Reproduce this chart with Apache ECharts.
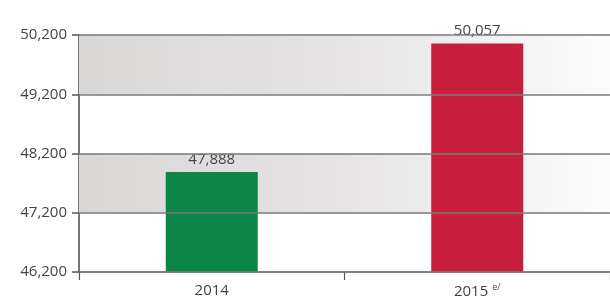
<!DOCTYPE html>
<html>
<head>
<meta charset="utf-8">
<script src="https://cdn.jsdelivr.net/npm/echarts@6/dist/echarts.min.js"></script>
<style>html,body{margin:0;padding:0;background:#fff}#c{width:610px;height:300px}</style>
</head>
<body>
<div id="c"></div>
<script>
const categories = ['2014', '2015'];
const categoryNotes = ['', 'e/'];
const values = [47888, 50057];
const barColors = ['#0b8647', '#c71f3b'];
const yTicks = [46200, 47200, 48200, 49200, 50200];
const shadedBands = [[47200, 48200], [49200, 50200]];

const fontFamily = '"Open Sans", sans-serif';
const fmt = v => v.toLocaleString('en-US');

const chart = echarts.init(document.getElementById('c'), null, {renderer: 'canvas'});
const bandGradient = new echarts.graphic.LinearGradient(0, 0, 1, 0, [
  {offset: 0, color: '#d9d7d6'},
  {offset: 0.5, color: '#e6e4e4'},
  {offset: 1, color: '#fbfbfb'}
]);

chart.setOption({
  animation: false,
  grid: {left: 79, right: 0, top: 35, bottom: 28},
  xAxis: {
    type: 'category',
    data: categories,
    axisLine: {lineStyle: {color: '#777', width: 1.5}},
    axisTick: {show: true, length: 8, lineStyle: {color: '#555', width: 1.2}},
    axisLabel: {
      color: '#444', fontSize: 15, fontFamily, margin: 11,
      formatter: (v, i) => categoryNotes[i] ? v + ' {sup|' + categoryNotes[i] + '}' : v,
      rich: {sup: {fontSize: 9, color: '#444', fontFamily, verticalAlign: 'top', padding: [0, 0, 9, 0]}}
    }
  },
  yAxis: {
    type: 'value',
    min: yTicks[0],
    max: yTicks[yTicks.length - 1],
    axisLine: {show: true, lineStyle: {color: '#777', width: 2}},
    axisTick: {show: true, length: 7, customValues: yTicks, lineStyle: {color: '#555', width: 1.5}},
    axisLabel: {color: '#444', fontSize: 15, fontFamily, margin: 12, customValues: yTicks, formatter: v => fmt(v)},
    splitLine: {show: false}
  },
  series: [
    {
      type: 'line',
      data: [],
      z: 1,
      silent: true,
      markArea: {
        silent: true,
        itemStyle: {color: bandGradient},
        data: shadedBands.map(b => [{yAxis: b[0]}, {yAxis: b[1]}])
      },
      markLine: {
        silent: true,
        symbol: 'none',
        label: {show: false},
        lineStyle: {color: '#7a7a7a', width: 1.5, type: 'solid'},
        data: yTicks.map(v => ({yAxis: v}))
      }
    },
    {
      type: 'bar',
      z: 3,
      barWidth: 92,
      data: values.map((v, i) => ({value: v, itemStyle: {color: barColors[i]}})),
      label: {
        show: true, position: 'top', distance: 5,
        color: '#444', fontSize: 15, fontFamily,
        formatter: p => fmt(p.value)
      }
    }
  ]
});
</script>
</body>
</html>
